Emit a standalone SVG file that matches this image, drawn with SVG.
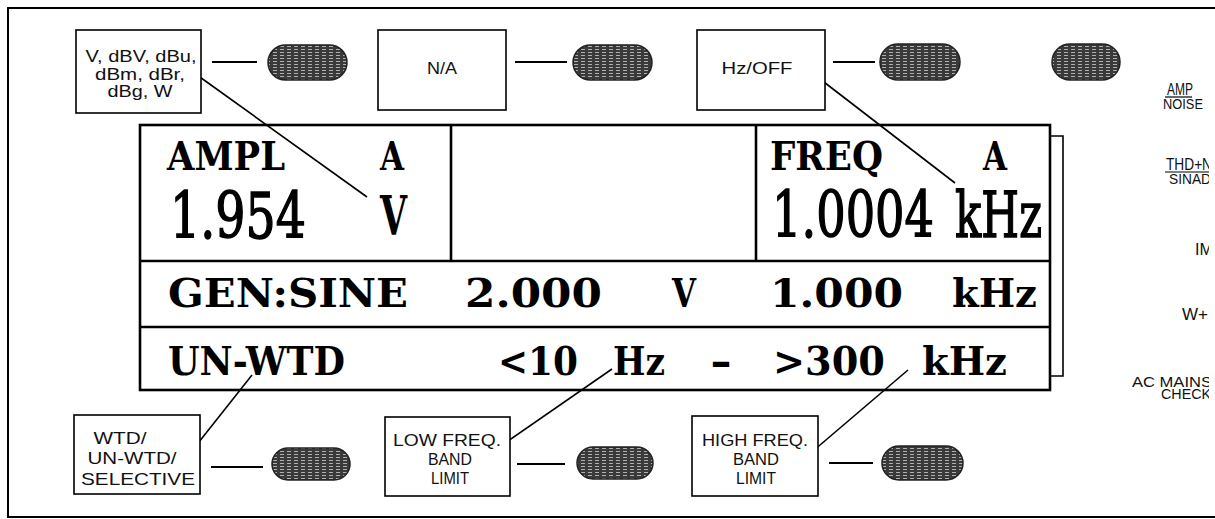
<svg xmlns="http://www.w3.org/2000/svg" width="1215" height="519" viewBox="0 0 1215 519">
<style>
.frame{fill:none;stroke:#000;stroke-width:2}
.box{fill:#fff;stroke:#000;stroke-width:1.6}
.lbl{font-family:"Liberation Sans",Arial,sans-serif;font-size:17px;fill:#111;text-anchor:middle}
.btn{fill:url(#grain);stroke:#222;stroke-width:1.5}
.wire{stroke:#000;stroke-width:2;fill:none}
.lead{stroke:#000;stroke-width:1.6;fill:none}
.disp{fill:none;stroke:#000;stroke-width:2.6}
.lcd{font-family:"DejaVu Serif","Liberation Serif",serif;font-weight:bold;font-size:39px;fill:#000}
.big{font-family:"DejaVu Serif","Liberation Serif",serif;font-size:63px;fill:#000;stroke:#000;stroke-width:1.5}
.side{font-family:"Liberation Sans",Arial,sans-serif;fill:#111;text-anchor:middle}
</style>
<defs>
<pattern id="grain" width="7" height="3" patternUnits="userSpaceOnUse">
<rect width="7" height="3" fill="#3a3a3a"/>
<rect x="0" y="1" width="4" height="1" fill="#b0b0b0"/>
</pattern>
<clipPath id="edge"><rect x="0" y="0" width="1209" height="519"/></clipPath>
</defs>
<rect width="1215" height="519" fill="#fff"/>
<g id="frame">
<path class="frame" d="M1215 8 H8 V517 H1215"/>
</g>
<g id="connectors">
<line class="wire" x1="212" y1="62" x2="257" y2="62"/>
<line class="wire" x1="515" y1="62" x2="567" y2="62"/>
<line class="wire" x1="833" y1="62" x2="875" y2="62"/>
<line class="wire" x1="211" y1="467" x2="263" y2="467"/>
<line class="wire" x1="517" y1="464" x2="565" y2="464"/>
<line class="wire" x1="829" y1="463" x2="873" y2="463"/>
<line class="lead" x1="197" y1="75" x2="367" y2="197"/>
<line class="lead" x1="820" y1="79" x2="955" y2="183"/>
<line class="lead" x1="195" y1="447" x2="252" y2="375"/>
<line class="lead" x1="505" y1="443" x2="612" y2="369"/>
<line class="lead" x1="813" y1="451" x2="908" y2="370"/>
</g>
<g id="box-units">
<rect class="box" x="76" y="30" width="125" height="83"/>
<text class="lbl" x="141" y="62" textLength="111" lengthAdjust="spacingAndGlyphs">V, dBV, dBu,</text>
<text class="lbl" x="140" y="80" textLength="90" lengthAdjust="spacingAndGlyphs">dBm, dBr,</text>
<text class="lbl" x="140" y="97" textLength="65" lengthAdjust="spacingAndGlyphs">dBg, W</text>
</g>
<g id="btn-1"><rect class="btn" x="268" y="45" width="79" height="35" rx="17.5"/></g>
<g id="box-na">
<rect class="box" x="378" y="30" width="128" height="80"/>
<text class="lbl" x="442" y="74" textLength="30" lengthAdjust="spacingAndGlyphs">N/A</text>
</g>
<g id="btn-2"><rect class="btn" x="573" y="45" width="79" height="35" rx="17.5"/></g>
<g id="box-hzoff">
<rect class="box" x="697" y="30" width="128" height="80"/>
<text class="lbl" x="757" y="74" textLength="71" lengthAdjust="spacingAndGlyphs">Hz/OFF</text>
</g>
<g id="btn-3"><rect class="btn" x="880" y="44" width="80" height="36" rx="18"/></g>
<g id="btn-4"><rect class="btn" x="1052" y="44" width="68" height="36" rx="18"/></g>
<g id="display">
<rect class="disp" x="140" y="125" width="910" height="265"/>
<line class="disp" x1="140" y1="261" x2="1050" y2="261"/>
<line class="disp" x1="140" y1="327" x2="1050" y2="327"/>
<line class="disp" x1="451" y1="125" x2="451" y2="261"/>
<line class="disp" x1="756" y1="125" x2="756" y2="261"/>
<path d="M1050 136 H1063 V376 H1050" fill="none" stroke="#000" stroke-width="1.6"/>
<text class="lcd" x="167" y="170" textLength="118" lengthAdjust="spacingAndGlyphs">AMPL</text>
<text class="lcd" x="380" y="170" textLength="24" lengthAdjust="spacingAndGlyphs">A</text>
<text class="big" x="170" y="238" textLength="136" lengthAdjust="spacingAndGlyphs">1.954</text>
<text class="lcd" x="380" y="235" style="font-size:54px" textLength="27" lengthAdjust="spacingAndGlyphs">V</text>
<text class="lcd" x="770" y="170" textLength="113" lengthAdjust="spacingAndGlyphs">FREQ</text>
<text class="lcd" x="983" y="170" textLength="24" lengthAdjust="spacingAndGlyphs">A</text>
<text class="big" x="772" y="237" textLength="162" lengthAdjust="spacingAndGlyphs">1.0004</text>
<text class="big" x="955" y="237" textLength="87" lengthAdjust="spacingAndGlyphs">kHz</text>
<text class="lcd" x="168" y="307" textLength="240" lengthAdjust="spacingAndGlyphs">GEN:SINE</text>
<text class="lcd" x="465" y="307" textLength="137" lengthAdjust="spacingAndGlyphs">2.000</text>
<text class="lcd" x="672" y="307" textLength="24" lengthAdjust="spacingAndGlyphs">V</text>
<text class="lcd" x="770" y="307" textLength="133" lengthAdjust="spacingAndGlyphs">1.000</text>
<text class="lcd" x="952" y="307" textLength="85" lengthAdjust="spacingAndGlyphs">kHz</text>
<text class="lcd" x="168" y="375" textLength="177" lengthAdjust="spacingAndGlyphs">UN-WTD</text>
<text class="lcd" x="498" y="375" textLength="80" lengthAdjust="spacingAndGlyphs">&lt;10</text>
<text class="lcd" x="613" y="375" textLength="52" lengthAdjust="spacingAndGlyphs">Hz</text>
<text class="lcd" x="710" y="375" textLength="22" lengthAdjust="spacingAndGlyphs">-</text>
<text class="lcd" x="773" y="375" textLength="112" lengthAdjust="spacingAndGlyphs">&gt;300</text>
<text class="lcd" x="922" y="375" textLength="85" lengthAdjust="spacingAndGlyphs">kHz</text>
</g>
<g id="box-wtd">
<rect class="box" x="74" y="415" width="126" height="79"/>
<text class="lbl" x="120" y="444" textLength="53" lengthAdjust="spacingAndGlyphs">WTD/</text>
<text class="lbl" x="132" y="464" textLength="89" lengthAdjust="spacingAndGlyphs">UN-WTD/</text>
<text class="lbl" x="138" y="485" textLength="114" lengthAdjust="spacingAndGlyphs">SELECTIVE</text>
</g>
<g id="btn-5"><rect class="btn" x="272" y="448" width="78" height="32" rx="16"/></g>
<g id="box-low">
<rect class="box" x="385" y="417" width="125" height="79"/>
<text class="lbl" x="447" y="446" textLength="108" lengthAdjust="spacingAndGlyphs">LOW FREQ.</text>
<text class="lbl" x="450" y="465" textLength="44" lengthAdjust="spacingAndGlyphs">BAND</text>
<text class="lbl" x="450" y="484" textLength="38" lengthAdjust="spacingAndGlyphs">LIMIT</text>
</g>
<g id="btn-6"><rect class="btn" x="577" y="447" width="76" height="32" rx="16"/></g>
<g id="box-high">
<rect class="box" x="692" y="416" width="126" height="80"/>
<text class="lbl" x="755" y="446" textLength="106" lengthAdjust="spacingAndGlyphs">HIGH FREQ.</text>
<text class="lbl" x="756" y="465" textLength="46" lengthAdjust="spacingAndGlyphs">BAND</text>
<text class="lbl" x="756" y="484" textLength="40" lengthAdjust="spacingAndGlyphs">LIMIT</text>
</g>
<g id="btn-7"><rect class="btn" x="882" y="446" width="81" height="34" rx="17"/></g>
<g id="side-labels" clip-path="url(#edge)">
<text class="side" x="1180" y="95" style="font-size:16px" textLength="26" lengthAdjust="spacingAndGlyphs">AMP</text>
<line x1="1165" y1="97" x2="1192" y2="97" stroke="#000" stroke-width="1.2"/>
<text class="side" x="1183" y="109" style="font-size:14px" textLength="40" lengthAdjust="spacingAndGlyphs">NOISE</text>
<text class="side" x="1189" y="170" style="font-size:16px" textLength="46" lengthAdjust="spacingAndGlyphs">THD+N</text>
<line x1="1165" y1="172" x2="1210" y2="172" stroke="#000" stroke-width="1.2"/>
<text class="side" x="1190" y="184" style="font-size:14px" textLength="42" lengthAdjust="spacingAndGlyphs">SINAD</text>
<text class="side" x="1204" y="255" style="font-size:16px" textLength="18" lengthAdjust="spacingAndGlyphs">IM</text>
<text class="side" x="1195" y="320" style="font-size:16px" textLength="26" lengthAdjust="spacingAndGlyphs">W+</text>
<text class="side" x="1172" y="387" style="font-size:15px" textLength="80" lengthAdjust="spacingAndGlyphs">AC MAINS</text>
<text class="side" x="1186" y="399" style="font-size:14px" textLength="50" lengthAdjust="spacingAndGlyphs">CHECK</text>
</g>
</svg>
